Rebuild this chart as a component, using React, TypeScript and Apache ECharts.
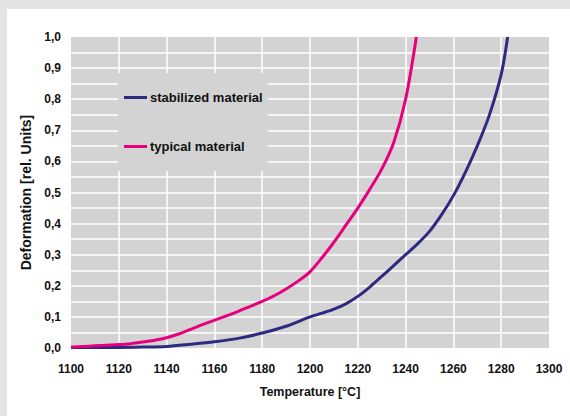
import React, { useEffect, useRef } from "react";
import * as echarts from "echarts";

const xTicks = [1100, 1120, 1140, 1160, 1180, 1200, 1220, 1240, 1260, 1280, 1300];
const yTicks = [0, 0.1, 0.2, 0.3, 0.4, 0.5, 0.6, 0.7, 0.8, 0.9, 1.0];

const seriesNames = ["stabilized material", "typical material"];

const tempStabilized = [1100, 1110, 1120, 1130, 1140, 1150, 1160, 1170, 1180, 1190, 1200, 1205, 1210, 1215, 1220, 1225, 1230, 1235, 1240, 1245, 1250, 1255, 1260, 1265, 1270, 1275, 1280, 1282.7];
const stabilized = [0.002, 0.002, 0.002, 0.003, 0.005, 0.012, 0.02, 0.031, 0.048, 0.07, 0.1, 0.112, 0.125, 0.142, 0.166, 0.196, 0.23, 0.265, 0.3, 0.335, 0.375, 0.428, 0.49, 0.565, 0.65, 0.748, 0.88, 1.0];

const tempTypical = [1100, 1105, 1110, 1115, 1120, 1125, 1130, 1135, 1140, 1145, 1150, 1155, 1160, 1165, 1170, 1175, 1180, 1185, 1190, 1195, 1200, 1205, 1210, 1215, 1220, 1225, 1230, 1235, 1240, 1244.5];
const typical = [0.003, 0.005, 0.007, 0.009, 0.011, 0.014, 0.019, 0.025, 0.033, 0.045, 0.06, 0.075, 0.089, 0.103, 0.118, 0.134, 0.15, 0.168, 0.19, 0.215, 0.245, 0.29, 0.34, 0.395, 0.45, 0.51, 0.575, 0.66, 0.8, 1.0];

const FONT = "'Liberation Sans', Arial, sans-serif";

export default function App() {
  const ref = useRef<HTMLDivElement>(null);
  useEffect(() => {
    if (!ref.current) return;
    const chart = echarts.init(ref.current, null, { renderer: "svg" });
    const toPairs = (xs: number[], ys: number[]) => xs.map((x, i) => [x, ys[i]]);
    chart.setOption({
      animation: false,
      backgroundColor: "#ffffff",
      textStyle: { fontFamily: FONT },
      graphic: [
        { type: "rect", shape: { x: 0, y: 0, width: 7, height: 416 }, style: { fill: "#e4e4e4" }, silent: true },
        { type: "rect", shape: { x: 0, y: 0, width: 570, height: 9 }, style: { fill: "#e4e4e4" }, silent: true },
      ],
      grid: {
        left: 71,
        right: 21,
        top: 37,
        bottom: 68,
        show: true,
        backgroundColor: "#d3d3d3",
        borderWidth: 0,
      },
      legend: {
        orient: "vertical",
        left: 118,
        top: 73,
        padding: [18, 5, 18, 6],
        itemWidth: 23,
        itemHeight: 3,
        itemGap: 36,
        icon: "rect",
        selectedMode: false,
        backgroundColor: "#d3d3d3",
        data: seriesNames,
        textStyle: { fontFamily: FONT, fontWeight: "bold", fontSize: 13, color: "#111111", padding: [0, 0, 0, -2] },
      },
      xAxis: {
        type: "value",
        min: xTicks[0],
        max: xTicks[xTicks.length - 1],
        interval: 20,
        name: "Temperature [°C]",
        nameLocation: "middle",
        nameGap: 37,
        nameTextStyle: { fontFamily: FONT, fontWeight: "bold", fontSize: 12.5, color: "#111111" },
        axisLine: { show: false },
        axisTick: { show: false },
        axisLabel: {
          margin: 15,
          fontFamily: FONT,
          fontWeight: "bold",
          fontSize: 12,
          color: "#111111",
          formatter: (v: number) => String(v),
        },
        splitLine: { show: true, showMinLine: false, showMaxLine: false, lineStyle: { color: "#ffffff", width: 1.5 } },
      },
      yAxis: {
        type: "value",
        min: yTicks[0],
        max: yTicks[yTicks.length - 1],
        interval: 0.1,
        name: "Deformation [rel. Units]",
        nameLocation: "middle",
        nameGap: 34,
        nameTextStyle: { fontFamily: FONT, fontWeight: "bold", fontSize: 14, color: "#111111" },
        axisLine: { show: false },
        axisTick: { show: false },
        axisLabel: {
          margin: 10,
          fontFamily: FONT,
          fontWeight: "bold",
          fontSize: 12,
          color: "#111111",
          formatter: (v: number) => v.toFixed(1).replace(".", ","),
        },
        splitLine: { show: true, showMinLine: false, showMaxLine: false, lineStyle: { color: "#ffffff", width: 1.5 } },
        minorTick: { show: false, splitNumber: 2 },
        minorSplitLine: { show: true, lineStyle: { color: "#ffffff", width: 1.5 } },
      },
      series: [
        {
          name: seriesNames[0],
          type: "line",
          data: toPairs(tempStabilized, stabilized),
          smooth: 0.3,
          symbol: "none",
          lineStyle: { color: "#2e2a80", width: 3 },
          itemStyle: { color: "#2e2a80" },
        },
        {
          name: seriesNames[1],
          type: "line",
          data: toPairs(tempTypical, typical),
          smooth: 0.3,
          symbol: "none",
          lineStyle: { color: "#e6007e", width: 3 },
          itemStyle: { color: "#e6007e" },
        },
      ],
    });
    return () => chart.dispose();
  }, []);
  return (
    <div
      ref={ref}
      style={{ position: "fixed", left: 0, top: 0, width: 570, height: 416 }}
    />
  );
}
